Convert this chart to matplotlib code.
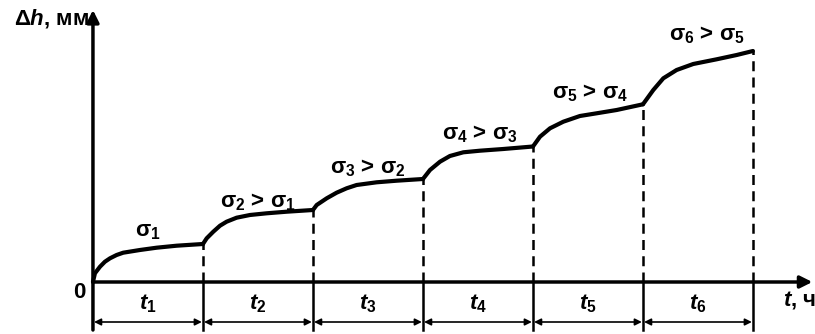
import numpy as np
import matplotlib
matplotlib.use("Agg")
import matplotlib.pyplot as plt

plt.rcParams['font.family'] = ['Liberation Sans', 'DejaVu Sans']
plt.rcParams['font.weight'] = 'bold'
plt.rcParams['mathtext.fontset'] = 'custom'
plt.rcParams['mathtext.rm'] = 'Liberation Sans:bold'
plt.rcParams['mathtext.it'] = 'Liberation Sans:italic:bold'
plt.rcParams['mathtext.default'] = 'regular'

# time steps (equal durations t1..t6)
durations = [1, 1, 1, 1, 1, 1]
step_labels = ['$\\mathit{t}_1$', '$\\mathit{t}_2$', '$\\mathit{t}_3$',
               '$\\mathit{t}_4$', '$\\mathit{t}_5$', '$\\mathit{t}_6$']

# creep curve
seg_x = [
    [0.0, 0.018, 0.064, 0.109, 0.155, 0.215, 0.275, 0.427, 0.579, 0.761, 1.0],
    [1.0, 1.034, 1.094, 1.155, 1.215, 1.306, 1.427, 1.579, 1.761, 2.0],
    [2.0, 2.034, 2.125, 2.215, 2.306, 2.397, 2.579, 2.761, 3.0],
    [3.0, 3.064, 3.155, 3.245, 3.367, 3.518, 3.73, 4.0],
    [4.0, 4.064, 4.155, 4.276, 4.427, 4.579, 4.761, 5.0],
    [5.0, 5.094, 5.185, 5.306, 5.457, 5.67, 5.852, 6.0],
]
seg_y = [
    [0, 8.7, 15.3, 20.3, 23.7, 27, 29.3, 32, 34.3, 36.3, 38],
    [38, 43.7, 50.3, 56.3, 60.3, 64.3, 67, 68.7, 70.3, 72],
    [72, 77, 83.7, 89.3, 93.7, 97, 99.7, 101.3, 103],
    [103, 112, 120.3, 126, 129.7, 131.3, 133, 135.5],
    [135.5, 145.3, 153.7, 160.3, 166, 168.7, 172, 177.7],
    [177.7, 192, 203.7, 212, 218, 222.7, 227, 231],
]
stress_labels = ['$\\sigma_1$', '$\\sigma_2$ > $\\sigma_1$', '$\\sigma_3$ > $\\sigma_2$',
                 '$\\sigma_4$ > $\\sigma_3$', '$\\sigma_5$ > $\\sigma_4$', '$\\sigma_6$ > $\\sigma_5$']
label_pos = [(0.50, 50), (1.50, 80), (2.50, 114), (3.52, 148), (4.52, 189), (5.58, 247)]

fig = plt.figure(figsize=(8.15, 3.34), dpi=100)
ax = fig.add_axes([0, 0, 1, 1])
ax.set_xlim(-0.845, 6.564)
ax.set_ylim(-52, 282)
ax.axis('off')

bounds = np.concatenate([[0], np.cumsum(durations)])
ends = [s[-1] for s in seg_y]

# axes with arrows
ax.annotate('', xy=(6.54, 0), xytext=(0, 0),
            arrowprops=dict(arrowstyle='-|>', lw=2.5, color='black', mutation_scale=18, shrinkA=0, shrinkB=0))
ax.annotate('', xy=(0, 272), xytext=(0, -48),
            arrowprops=dict(arrowstyle='-|>', lw=2.5, color='black', mutation_scale=18, shrinkA=0, shrinkB=0))

# curve
for xs, ys in zip(seg_x, seg_y):
    ax.plot(xs, ys, color='black', lw=3.0, solid_capstyle='round', solid_joinstyle='round')

# dashed boundaries
for b, e in zip(bounds[1:], ends):
    ax.plot([b, b], [0, e], color='black', lw=1.8, ls=(0, (4, 2.5)))

# dimension lines below axis
for b in bounds[1:]:
    ax.plot([b, b], [0, -48], color='black', lw=1.8)
for i, lab in enumerate(step_labels):
    ax.annotate('', xy=(bounds[i + 1] - 0.01, -40), xytext=(bounds[i] + 0.01, -40),
                arrowprops=dict(arrowstyle='<|-|>', lw=1.2, color='black', mutation_scale=10, shrinkA=0, shrinkB=0))
    ax.text((bounds[i] + bounds[i + 1]) / 2, -22, lab, fontsize=16, ha='center', va='center')

for (lx, ly), lab in zip(label_pos, stress_labels):
    ax.text(lx, ly, lab, fontsize=16, ha='center', va='center')

ax.text(-0.12, -10, '0', fontsize=16, ha='center', va='center')
ax.text(6.42, -18, '$\\mathit{t}$, ч', fontsize=16, ha='center', va='center')
ax.text(-0.03, 264, '$\\Delta\\mathit{h}$, мм', fontsize=16, ha='right', va='center')

fig.savefig('out.png', dpi=100)
